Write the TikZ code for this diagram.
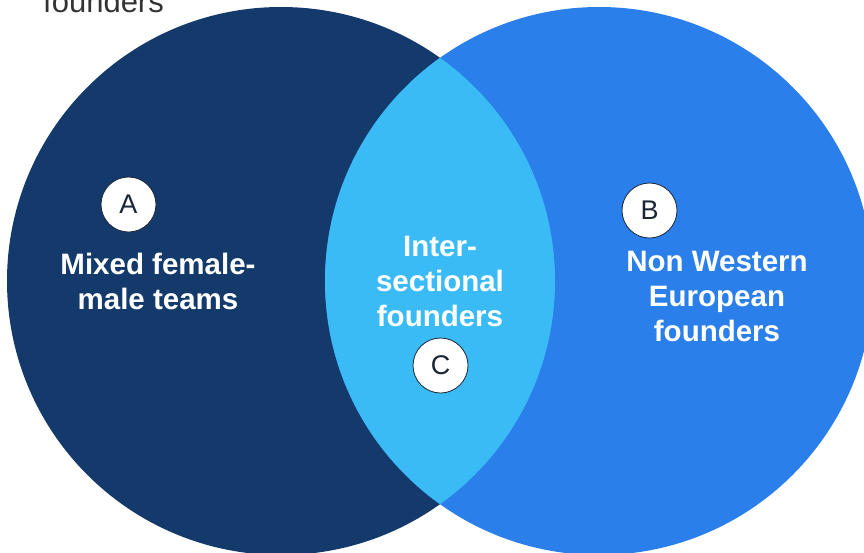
\documentclass[tikz,border=0pt]{standalone}
\usepackage{fontspec}
\setmainfont{Liberation Sans}
\definecolor{navy}{HTML}{143A6B}
\definecolor{brightblue}{HTML}{2A7FEA}
\definecolor{lensblue}{HTML}{3BBBF5}
\definecolor{lettercol}{HTML}{1A2535}
\begin{document}
\begin{tikzpicture}[x=1pt,y=-1pt,
  setlabel/.style={text=white,font=\bfseries\fontsize{29.5}{35}\selectfont,align=center,inner sep=0pt},
  letterbadge/.style={circle,draw=lettercol,line width=0.8pt,fill=white,minimum size=55pt,inner sep=0pt,text=lettercol,font=\fontsize{27}{30}\selectfont}]
\useasboundingbox (0,0) rectangle (864,552);
\clip (0,0) rectangle (864,552);
\fill[navy] (281,281) circle[radius=274];
\fill[brightblue] (599,281) circle[radius=274];
\begin{scope}
\clip (281,281) circle[radius=274];
\fill[lensblue] (599,281) circle[radius=274];
\end{scope}
\node[anchor=base west,text=black!80,font=\fontsize{31}{34}\selectfont,inner sep=0pt] (toplabel) at (43,12) {founders};
\node[setlabel] (setA) at (158,281) {Mixed female-\\male teams};
\node[setlabel] (setB) at (717,296) {Non Western\\European\\founders};
\node[setlabel] (setC) at (440,281) {Inter-\\sectional\\founders};
\node[letterbadge] (badgeA) at (128.5,204.5) {A};
\node[letterbadge] (badgeB) at (649.5,210.5) {B};
\node[letterbadge] (badgeC) at (440.5,365.5) {C};
\end{tikzpicture}
\end{document}
